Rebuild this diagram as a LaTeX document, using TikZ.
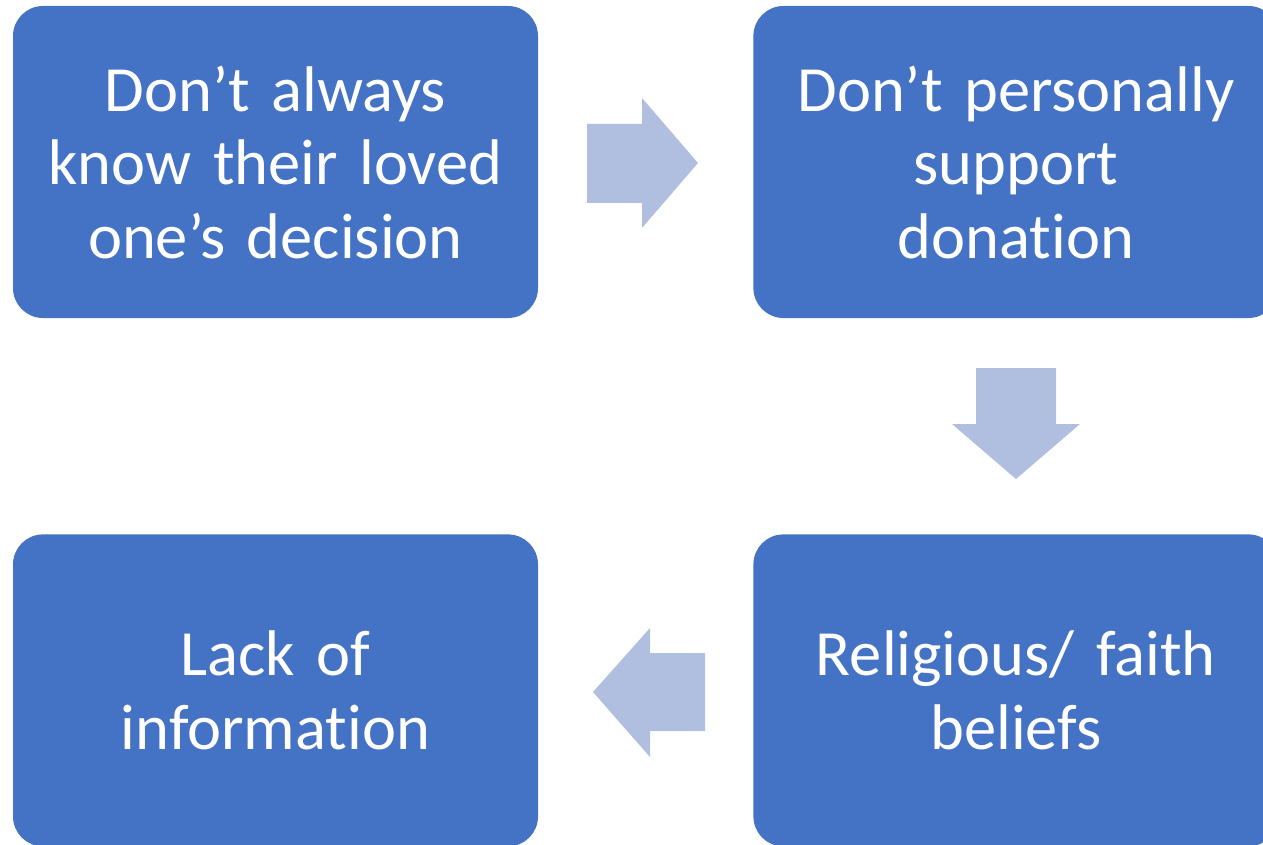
\documentclass[tikz,border=0pt]{standalone}
\usepackage{fontspec}
\setmainfont{Carlito}[Ligatures={NoCommon}]
\usetikzlibrary{positioning}
\definecolor{boxblue}{HTML}{4472C4}
\definecolor{arrowblue}{HTML}{B0BEE0}
\tikzset{
  reason/.style={fill=boxblue,rounded corners=30pt,minimum width=525pt,minimum height=312pt,
    inner sep=0pt,text width=520pt,align=center,text=white,font=\fontsize{64.5}{73.5}\selectfont},
  blockarrow/.style={fill=arrowblue}
}
\begin{document}
\begin{tikzpicture}[x=1pt,y=-1pt,node distance=216pt and 215pt]
  \useasboundingbox (0,0) rectangle (1263,845);
  \node[reason] (1) at (275.5,162) {Don’t always\\know their loved\\one’s decision};
  \node[reason] (2) [right=of 1] {Don’t personally\\support\\donation};
  \node[reason] (3) [below=of 2] {Religious/ faith\\beliefs};
  \node[reason] (4) [below=of 1] {Lack of\\information};
  % arrows between the boxes
  \fill[blockarrow] (587,124) -- (642,124) -- (642,98) -- (698,163) -- (642,228) -- (642,203) -- (587,203) -- cycle;
  \fill[blockarrow] (976,368) -- (1056,368) -- (1056,424) -- (1080,424) -- (1016,479) -- (952,424) -- (976,424) -- cycle;
  \fill[blockarrow] (705,653) -- (650,653) -- (650,628) -- (593,692) -- (650,757) -- (650,731) -- (705,731) -- cycle;
\end{tikzpicture}
\end{document}
